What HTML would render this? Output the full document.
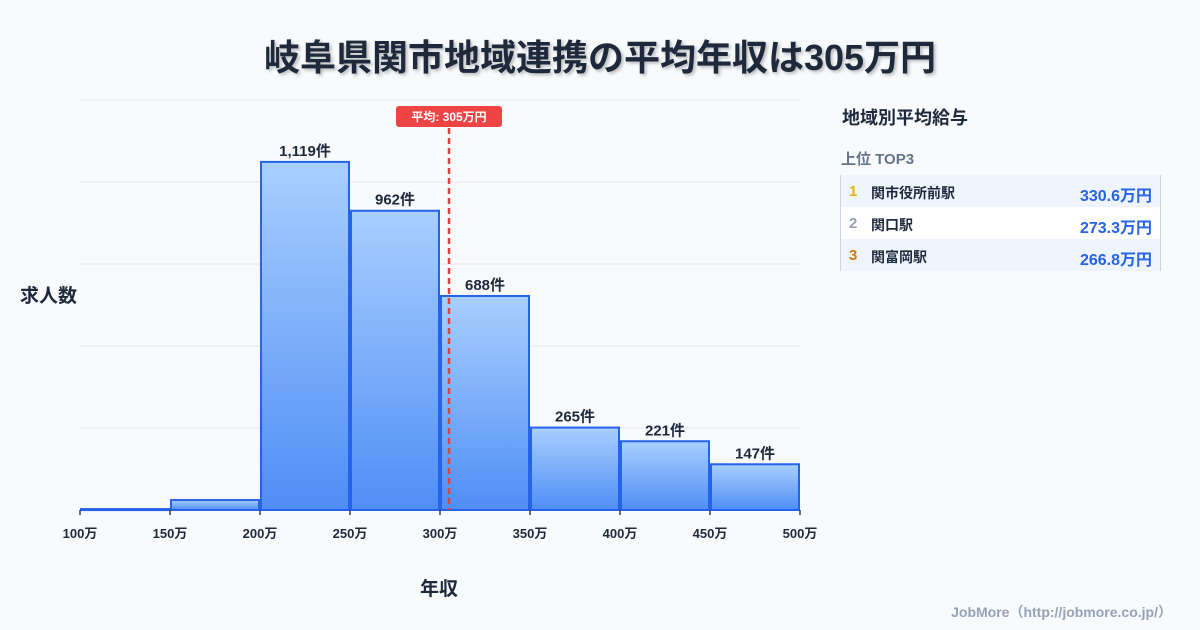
<!DOCTYPE html>
<html><head><meta charset="utf-8"><style>
body{margin:0;background:#f8fafc;font-family:"Liberation Sans","Noto Sans CJK JP",sans-serif;}
#wrap{position:relative;width:1200px;height:630px;overflow:hidden;background:#f8fafc}
.t{position:absolute;white-space:nowrap}
</style></head><body>
<div id="wrap">
<div class="t" style="left:0;width:1200px;text-align:center;top:29px;font-size:36px;font-weight:bold;color:#1e293b;text-shadow:2px 2px 3px rgba(0,0,0,0.25)">岐阜県関市地域連携の平均年収は305万円</div>
<div class="t" style="left:20px;top:281px;font-size:19px;font-weight:bold;color:#1e293b">求人数</div>
<div class="t" style="left:420px;top:574px;font-size:19px;font-weight:bold;color:#1e293b">年収</div>
<svg id="plot" width="1200" height="630" style="position:absolute;left:0;top:0">
<defs><linearGradient id="g" x1="0" y1="0" x2="0" y2="1"><stop offset="0" stop-color="#a8cffd"/><stop offset="1" stop-color="#4f8ef6"/></linearGradient></defs>
</svg>
<div class="t" style="left:842px;top:104px;font-size:18px;font-weight:bold;color:#1e293b">地域別平均給与</div>
<div class="t" style="left:841px;top:148px;font-size:15px;font-weight:bold;color:#64748b">上位 TOP3</div>
<div style="position:absolute;left:840px;top:175px;width:319px;border-left:1px solid #cbd5e1;border-right:1px solid #cbd5e1;font-size:14px;font-weight:bold">
 <div style="height:32px;background:#eef5ff;position:relative"><span class="t" style="left:8px;top:8px;color:#eab308;font-size:15px">1</span><span class="t" style="left:30px;top:8px;color:#1e293b">関市役所前駅</span><span class="t" style="right:8px;top:7px;color:#2563eb;font-size:16px">330.6万円</span></div>
 <div style="height:32px;background:#fff;position:relative"><span class="t" style="left:8px;top:8px;color:#94a3b8;font-size:15px">2</span><span class="t" style="left:30px;top:8px;color:#1e293b">関口駅</span><span class="t" style="right:8px;top:7px;color:#2563eb;font-size:16px">273.3万円</span></div>
 <div style="height:32px;background:#eef5ff;position:relative"><span class="t" style="left:8px;top:8px;color:#d97706;font-size:15px">3</span><span class="t" style="left:30px;top:8px;color:#1e293b">関富岡駅</span><span class="t" style="right:8px;top:7px;color:#2563eb;font-size:16px">266.8万円</span></div>
</div>
<div class="t" style="right:28px;top:602px;font-size:14px;font-weight:bold;color:#94a3b8">JobMore（http://jobmore.co.jp/）</div>
</div>
<script>
const binStarts=[100,150,200,250,300,350,400,450];
const counts=[3,32,1119,962,688,265,221,147];
const countLabels=["","","1,119件","962件","688件","265件","221件","147件"];
const xTicks=[100,150,200,250,300,350,400,450,500];
const avgValue=305;
const binWidth=50;
const yMax=1318;
const svg=document.getElementById('plot');
const NS='http://www.w3.org/2000/svg';
const X0=80,X1=800,Y0=510,Y1=100;
const xs=v=>X0+(v-100)/(500-100)*(X1-X0);
const ys=v=>Y0-v/yMax*(Y0-Y1);
function mk(t,a){const e=document.createElementNS(NS,t);for(const k in a)e.setAttribute(k,a[k]);svg.appendChild(e);return e;}
for(let i=0;i<=5;i++){const y=Y0-i*(Y0-Y1)/5;const l=mk('line',{x1:X0,x2:X1,y1:y,y2:y,stroke:'#e2e8f0','stroke-width':1});

}
binStarts.forEach((b,i)=>{
 const x=xs(b)+1,w=xs(b+binWidth)-xs(b)-2,y=ys(counts[i]);
 const r=mk('rect',{x:x,y:y,width:w,height:Math.max(Y0-y,1),fill:'url(#g)',stroke:'#2563eb','stroke-width':2});
 
 
 if(countLabels[i]){const t=mk('text',{x:x+w/2,y:y-6,'text-anchor':'middle','font-size':15,'font-weight':'bold',fill:'#1e293b'});t.textContent=countLabels[i];
 
 }
});
xTicks.forEach(v=>{const x=xs(v);mk('line',{x1:x,x2:x,y1:Y0,y2:Y0+5,stroke:'#334155','stroke-width':1.5});
 const t=mk('text',{x:x,y:Y0+28,'text-anchor':'middle','font-size':13,'font-weight':'bold',fill:'#1e293b'});t.textContent=v+'万';
 
 });
const ax=xs(avgValue);
const al=mk('line',{x1:ax,x2:ax,y1:128,y2:Y0,stroke:'#dc4444','stroke-width':2.5,'stroke-dasharray':'6,4'});


const bg=mk('rect',{x:ax-53,y:106,width:106,height:21,rx:3,fill:'#ef4444'});


const at=mk('text',{x:ax,y:121,'text-anchor':'middle','font-size':12,'font-weight':'bold',fill:'#fff'});at.textContent='平均: '+avgValue+'万円';


</script>
</body></html>
